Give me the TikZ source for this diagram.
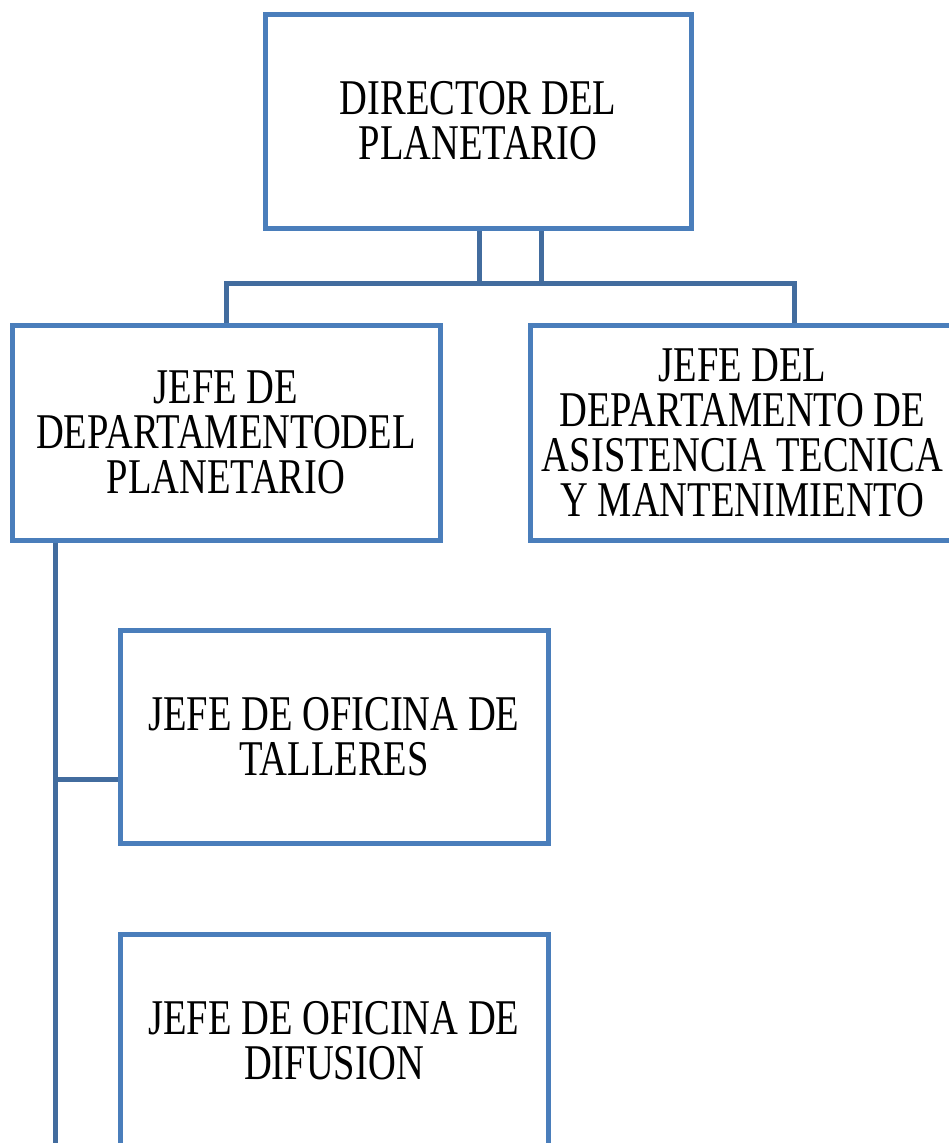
\documentclass[tikz,border=0pt]{standalone}
\usepackage{fontspec}
\setmainfont[FakeStretch=0.77]{Liberation Serif}
\definecolor{boxblue}{HTML}{4A7EBB}
\definecolor{connblue}{HTML}{426C9E}
\begin{document}
\begin{tikzpicture}[x=1pt,y=-1pt,
  orgbox/.style={draw=boxblue,line width=5pt,fill=white,rectangle,inner sep=0pt,
    align=center,font=\fontsize{50}{45}\selectfont,text=black},
  conn/.style={draw=connblue,line width=5pt}]
\useasboundingbox (0,0) rectangle (949,1143);
\node[orgbox,minimum width=426pt,minimum height=214pt] (top) at (478,121) {DIRECTOR DEL\\PLANETARIO};
\node[orgbox,minimum width=428pt,minimum height=215pt] (left) at (226,432.5) {JEFE DE\\DEPARTAMENTODEL\\PLANETARIO};
\node[orgbox,minimum width=425pt,minimum height=215pt] (right) at (742.5,432.5) {JEFE DEL\\DEPARTAMENTO DE\\ASISTENCIA TECNICA\\Y MANTENIMIENTO};
\node[orgbox,minimum width=428pt,minimum height=213pt] (tall) at (334,736.5) {JEFE DE OFICINA DE\\TALLERES};
\node[orgbox,minimum width=428pt,minimum height=213pt] (dif) at (334,1040.5) {JEFE DE OFICINA DE\\DIFUSION};
\coordinate (jl) at (479,283);
\coordinate (jr) at (541,283);
\coordinate (rb) at (794,283);
\coordinate (bot) at (55,1150);
\coordinate (tj) at (55,779);
\draw[conn] (jl |- top.south) -- (jl) -- (jr) -- (jr |- top.south);
\draw[conn] (left.north) |- (rb) -- (rb |- right.north);
\draw[conn] (bot |- left.south) -- (bot);
\draw[conn] (tj) -- (tj -| tall.west);
\end{tikzpicture}
\end{document}
